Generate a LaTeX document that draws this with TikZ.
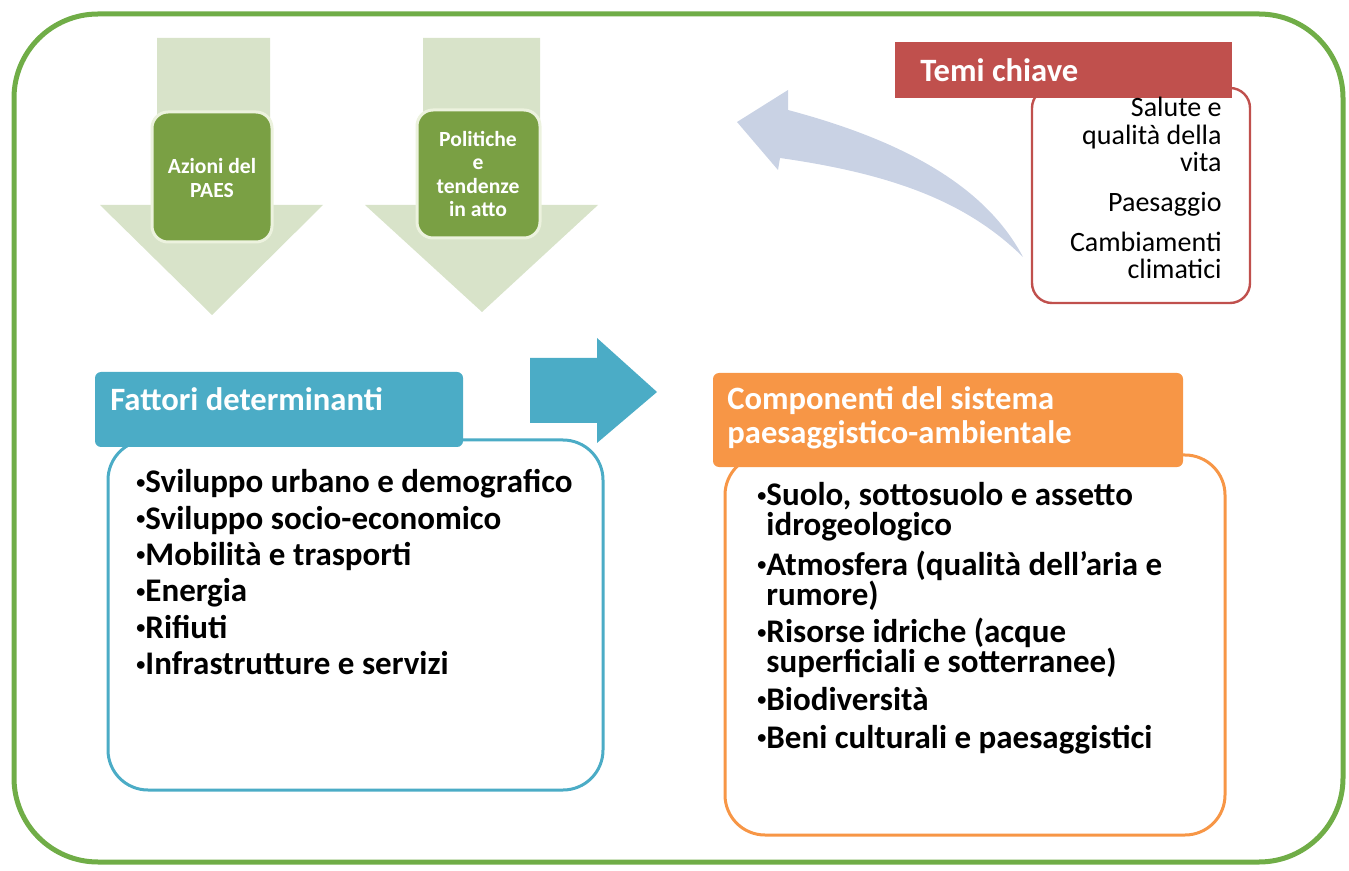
\documentclass[tikz,border=0pt]{standalone}
\usepackage{fontspec}
\setmainfont{Carlito}
\usetikzlibrary{positioning}

\definecolor{framegreen}{RGB}{112,173,71}
\definecolor{paleolive}{RGB}{216,227,201}
\definecolor{olive}{RGB}{122,160,68}
\definecolor{oliverim}{RGB}{236,242,222}
\definecolor{paleblue}{RGB}{201,210,228}
\definecolor{temired}{RGB}{192,80,77}
\definecolor{aqua}{RGB}{75,172,198}
\definecolor{tangerine}{RGB}{247,150,70}

\newcommand{\blt}{\raisebox{0.28ex}{\scalebox{0.55}{\textbullet}}}

\tikzset{
  headtext/.style={text=white, font=\bfseries\fontsize{16.3}{17}\selectfont, inner sep=0pt, align=left},
  listtext/.style={font=\bfseries\fontsize{16.5}{18.2}\selectfont, align=left, inner sep=0pt, anchor=north west},
  greentext/.style={text=white, font=\bfseries\fontsize{10.8}{11.8}\selectfont, align=center, inner sep=0pt},
  temitext/.style={font=\fontsize{14}{13.6}\selectfont, align=right, inner sep=0pt, anchor=north east}
}

\begin{document}
\begin{tikzpicture}[x=0.5pt, y=-0.5pt]
  \useasboundingbox (0,0) rectangle (1349,871);

  % frame
  \draw[framegreen, line width=2.5pt, rounded corners=42pt] (14,14) rectangle (1343,862);

  % down arrows
  \fill[paleolive] (157,38) -- (270,38) -- (270,205) -- (323,205) -- (212,315)
    -- (100,205) -- (157,205) -- cycle;
  \fill[paleolive] (423,38) -- (540,38) -- (540,205) -- (598,205) -- (482,312)
    -- (365,205) -- (423,205) -- cycle;

  \draw[oliverim, fill=olive, line width=1.5pt, rounded corners=8pt] (152,112) rectangle (272,242);
  \draw[oliverim, fill=olive, line width=1.5pt, rounded corners=8pt] (417,110) rectangle (540,238);
  \node[greentext] (azioni) at (212,178) {Azioni del\\PAES};
  \node[greentext] (politiche) at (478,174) {Politiche\\e\\tendenze\\in atto};

  % curved arrow
  \fill[paleblue] (1023,257) .. controls (990,195) and (920,145) .. (788,110)
    -- (788,90) -- (737,122) -- (778,170) -- (780,158)
    .. controls (900,175) and (970,205) .. (1023,257) -- cycle;

  % temi chiave
  \draw[temired, line width=1.2pt, fill=white, rounded corners=10pt] (1032,88) rectangle (1250,303);
  \fill[temired] (895,42) rectangle (1232,98);
  \node[headtext, anchor=west] (temi) at (920,70) {Temi chiave};
  \node[temitext] (salute) at (1222,97) {Salute e\\qualità della\\vita\\[6.5pt]Paesaggio\\[6.5pt]Cambiamenti\\climatici};

  % fattori
  \fill[aqua] (530,358) -- (597,358) -- (597,338) -- (657,392) -- (597,443)
    -- (597,423) -- (530,423) -- cycle;
  \draw[aqua, line width=1.5pt, fill=white, rounded corners=20pt] (108,440) rectangle (603,790);
  \fill[aqua, rounded corners=3pt] (95,372) rectangle (463,447);
  \node[headtext, anchor=west] (fattori) at (110,399) {Fattori determinanti};
  \node[listtext] (fattlist) at (136,469) {\blt Sviluppo urbano e demografico\\
    \blt Sviluppo socio-economico\\
    \blt Mobilità e trasporti\\
    \blt Energia\\
    \blt Rifiuti\\
    \blt Infrastrutture e servizi};

  % componenti
  \draw[tangerine, line width=1.5pt, fill=white, rounded corners=20pt] (725,455) rectangle (1225,835);
  \fill[tangerine, rounded corners=3pt] (713,373) rectangle (1183,467);
  \node[headtext, anchor=north west] (compon) at (727,386) {Componenti del sistema\\paesaggistico-ambientale};
  \node[listtext, font=\bfseries\fontsize{16.5}{15}\selectfont] (complist) at (757,482)
    {\blt Suolo, sottosuolo e assetto\\
    \phantom{\blt}idrogeologico\\[3.8pt]
    \blt Atmosfera (qualità dell’aria e\\
    \phantom{\blt}rumore)\\[3.8pt]
    \blt Risorse idriche (acque\\
    \phantom{\blt}superficiali e sotterranee)\\[3.8pt]
    \blt Biodiversità\\[3.8pt]
    \blt Beni culturali e paesaggistici};
\end{tikzpicture}
\end{document}
